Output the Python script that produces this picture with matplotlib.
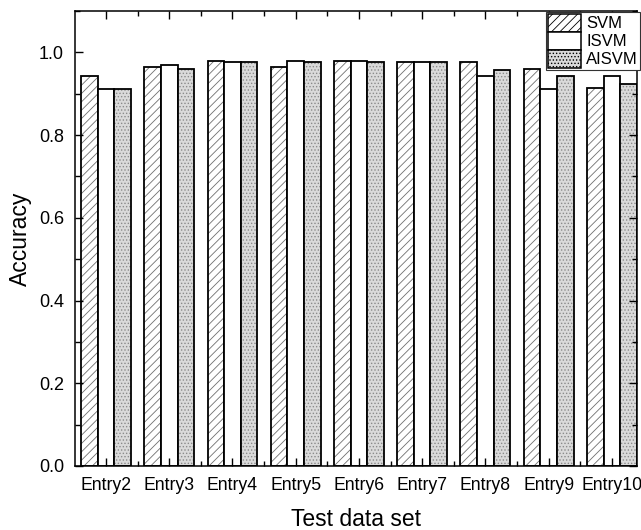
import matplotlib
matplotlib.use("Agg")
import matplotlib.pyplot as plt
import numpy as np
from matplotlib.ticker import MultipleLocator, FixedLocator, FormatStrFormatter
from matplotlib.patches import Patch

plt.rcParams['font.family'] = ['Liberation Sans', 'DejaVu Sans']
plt.rcParams['hatch.linewidth'] = 0.6

categories = ["Entry2", "Entry3", "Entry4", "Entry5", "Entry6", "Entry7", "Entry8", "Entry9", "Entry10"]
svm   = [0.943, 0.965, 0.980, 0.964, 0.979, 0.977, 0.977, 0.961, 0.914]
isvm  = [0.912, 0.969, 0.977, 0.980, 0.979, 0.977, 0.942, 0.912, 0.944]
aisvm = [0.912, 0.961, 0.977, 0.977, 0.977, 0.976, 0.957, 0.944, 0.924]
series_names = ["SVM", "ISVM", "AISVM"]

fig = plt.figure(figsize=(6.41, 5.30), dpi=100)
ax = fig.add_axes([0.117, 0.121, 0.877, 0.858])

x = np.arange(len(categories))
w = 0.263
offs = [-w, 0, w]
lw = 1.3
stip_face = '#dadada'
stip_dot = '#8a8a8a'

# SVM: gray diagonal hatch
ax.bar(x + offs[0], svm, w, facecolor='white', edgecolor='#707070', hatch='////', linewidth=0)
ax.bar(x + offs[0], svm, w, facecolor='none', edgecolor='black', linewidth=lw)
# ISVM: white
ax.bar(x + offs[1], isvm, w, facecolor='white', edgecolor='black', linewidth=lw)
# AISVM: stippled gray
ax.bar(x + offs[2], aisvm, w, facecolor=stip_face, edgecolor=stip_dot, hatch='.....', linewidth=0)
ax.bar(x + offs[2], aisvm, w, facecolor='none', edgecolor='black', linewidth=lw)

ax.set_xlim(-0.49, len(categories) - 0.6)
ax.set_ylim(0, 1.1)
ax.set_xticks(x)
ax.set_xticklabels(categories, fontsize=12.7)
ax.xaxis.set_minor_locator(FixedLocator(x[:-1] + 0.5))
ax.yaxis.set_major_locator(MultipleLocator(0.2))
ax.yaxis.set_minor_locator(MultipleLocator(0.1))
ax.yaxis.set_major_formatter(FormatStrFormatter('%.1f'))
ax.tick_params(axis='y', labelsize=13, pad=8)
ax.tick_params(axis='x', pad=8)
ax.tick_params(which='major', direction='in', length=6, width=1.0, top=True, right=True)
ax.tick_params(which='minor', direction='in', length=3.5, width=1.0, top=True, right=True)
for s in ax.spines.values():
    s.set_linewidth(1.1)

ax.set_xlabel("Test data set", fontsize=16.5, labelpad=10)
ax.set_ylabel("Accuracy", fontsize=16.5, labelpad=5)

handles = [
    Patch(facecolor='white', edgecolor='black', hatch='////', linewidth=1.1),
    Patch(facecolor='white', edgecolor='black', linewidth=1.1),
    Patch(facecolor=stip_face, edgecolor='black', hatch='.....', linewidth=1.1),
]
leg = ax.legend(handles, series_names, loc='upper right', fontsize=12, frameon=True,
                fancybox=False, edgecolor='#333333', framealpha=1,
                bbox_to_anchor=(640 / 641, 1 - 12 / 530), bbox_transform=fig.transFigure,
                borderaxespad=0, borderpad=0.12, handlelength=2.0, handleheight=1.25,
                handletextpad=0.3, labelspacing=0.02)
leg.get_frame().set_linewidth(0.8)

fig.savefig("out.png", dpi=100)
